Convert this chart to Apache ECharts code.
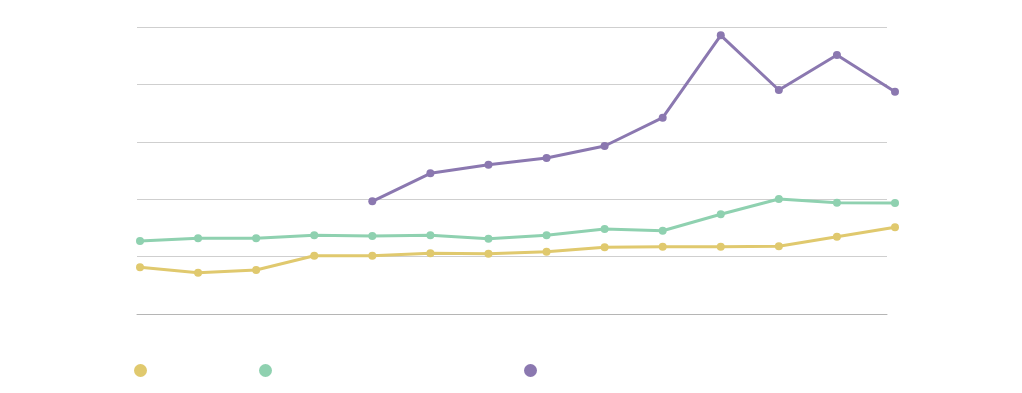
<!DOCTYPE html>
<html>
<head>
<meta charset="utf-8">
<script src="https://cdn.jsdelivr.net/npm/echarts@6/dist/echarts.min.js"></script>
<style>html,body{margin:0;padding:0;background:#fff;}#c{width:1022px;height:393px;}</style>
</head>
<body>
<div id="c"></div>
<script>
const categories = ['1','2','3','4','5','6','7','8','9','10','11','12','13','14'];
const seriesNames = ['Series A', 'Series B', 'Series C'];
const yellowValues = [8.14, 7.2, 7.67, 10.16, 10.16, 10.58, 10.5, 10.85, 11.62, 11.72, 11.72, 11.81, 13.47, 15.1];
const greenValues = [12.72, 13.19, 13.19, 13.71, 13.59, 13.71, 13.12, 13.71, 14.81, 14.51, 17.37, 20.04, 19.39, 19.34];
const purpleValues = [null, null, null, null, 19.63, 24.51, 26.01, 27.18, 29.27, 34.2, 48.55, 39.02, 45.12, 38.73];
const colors = ['#e0c96e', '#8fd1b0', '#8b78b0'];

const chart = echarts.init(document.getElementById('c'), null, {renderer: 'canvas'});
function mkSeries(name, data, color) {
  return {
    name: name, type: 'line', data: data, xAxisIndex: 1, yAxisIndex: 1,
    symbol: 'circle', symbolSize: 8, clip: false,
    lineStyle: {color: color, width: 3}, itemStyle: {color: color},
    connectNulls: false, animation: false
  };
}
const legendLefts = [129, 254, 519];
chart.setOption({
  animation: false,
  grid: [
    {left: 137, right: 135, top: 27, bottom: 79},
    {left: 140, right: 127, top: 27, bottom: 79}
  ],
  legend: seriesNames.map((n, i) => ({
    data: [n], left: legendLefts[i], top: 359, icon: 'circle',
    itemWidth: 13, itemHeight: 13, textStyle: {color: '#ffffff', fontSize: 12}
  })),
  xAxis: [
    {type: 'category', gridIndex: 0, data: categories, boundaryGap: false,
     axisLine: {show: true, lineStyle: {color: '#b5b5b5', width: 1}}, axisTick: {show: false}, axisLabel: {show: false}, splitLine: {show: false}},
    {type: 'category', gridIndex: 1, data: categories, boundaryGap: false, show: false}
  ],
  yAxis: [
    {type: 'value', gridIndex: 0, min: 0, max: 50, interval: 10,
     axisLine: {show: false}, axisTick: {show: false}, axisLabel: {show: false},
     splitLine: {show: true, lineStyle: {color: '#cfcfcf', width: 1}}},
    {type: 'value', gridIndex: 1, min: 0, max: 50, interval: 10, show: false, splitLine: {show: false}}
  ],
  series: [
    mkSeries(seriesNames[0], yellowValues, colors[0]),
    mkSeries(seriesNames[1], greenValues, colors[1]),
    mkSeries(seriesNames[2], purpleValues, colors[2])
  ]
});
</script>
</body>
</html>
